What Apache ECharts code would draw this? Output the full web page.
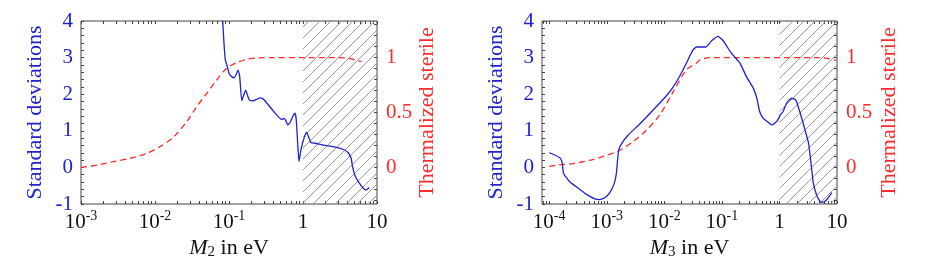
<!DOCTYPE html>
<html><head><meta charset="utf-8">
<script src="https://cdn.jsdelivr.net/npm/echarts@6/dist/echarts.min.js"></script>
<style>html,body{margin:0;padding:0;background:#fff}#c{width:926px;height:272px}</style>
</head><body><div id="c"></div>
<script>
// ---- Left panel (M2) ----
const leftBlueM = [0.0822,0.0855,0.0891,0.0948,0.1009,0.1086,0.1169,0.1245,0.1324,0.1396,0.1486,0.1581,0.1683,0.1791,0.1884,0.2128,0.2366,0.2624,0.2851,0.3062,0.3972,0.5152,0.5585,0.5888,0.6209,0.6668,0.7261,0.7798,0.8110,0.8472,0.8831,0.9204,0.9594,1.033,1.122,1.205,1.282,1.452,1.879,2.851,3.508,4.093,4.467,4.677,5.012,5.585,6.531,7.096,7.870];
const leftBlueSD = [3.99,3.40,2.94,2.76,2.55,2.48,2.45,2.53,2.66,2.48,1.82,1.98,2.11,1.95,1.84,1.82,1.86,1.90,1.88,1.82,1.54,1.31,1.34,1.27,1.16,1.22,1.39,1.48,1.30,0.66,0.16,0.38,0.57,0.80,0.96,0.80,0.68,0.66,0.61,0.55,0.49,0.40,0.25,0.02,-0.21,-0.39,-0.57,-0.62,-0.55];
const leftRedM = [0.001,0.00166,0.00273,0.00459,0.00773,0.01169,0.01766,0.02679,0.03664,0.0500,0.06823,0.09311,0.1271,0.1778,0.2512,0.398,1.0,3.16,3.89,5.01,6.17];
const leftRedTh = [0.0,0.022,0.052,0.083,0.128,0.189,0.274,0.416,0.553,0.674,0.796,0.903,0.954,0.985,0.997,1.0,1.0,1.0,0.995,0.98,0.963];

// ---- Right panel (M3) ----
const rightBlueM = [1.0e-4,1.253e-4,1.581e-4,1.694e-4,1.774e-4,2.291e-4,2.958e-4,4.385e-4,6.223e-4,7.482e-4,9.226e-4,1.138e-3,1.340e-3,1.469e-3,1.538e-3,1.611e-3,1.811e-3,2.339e-3,3.715e-3,6.339e-3,0.01081,0.01429,0.01845,0.02438,0.03148,0.03622,0.05248,0.06622,0.08551,0.1054,0.1459,0.2065,0.2667,0.3524,0.4055,0.4550,0.5236,0.6457,0.7413,0.9141,1.050,1.153,1.358,1.633,1.923,2.259,2.786,3.206,3.516,3.855,4.436,5.093,5.728,6.745,8.110];
const rightBlueSD = [0.40,0.34,0.24,0.10,-0.17,-0.40,-0.53,-0.73,-0.86,-0.88,-0.83,-0.68,-0.45,-0.17,0.19,0.47,0.65,0.88,1.18,1.56,1.95,2.20,2.49,2.86,3.21,3.29,3.29,3.46,3.58,3.46,3.12,2.85,2.48,2.16,1.89,1.52,1.34,1.23,1.16,1.27,1.45,1.52,1.78,1.89,1.84,1.52,1.02,0.66,0.15,-0.40,-0.76,-0.93,-0.95,-0.87,-0.69];
const rightRedM = [1.0e-4,1.343e-4,2.570e-4,5.047e-4,9.886e-4,1.687e-3,2.877e-3,4.909e-3,8.375e-3,0.01429,0.02438,0.03622,0.04169,0.0618,5.0,9.77];
const rightRedTh = [0.01,0.02,0.035,0.065,0.11,0.157,0.235,0.34,0.48,0.69,0.89,0.95,0.98,1.0,1.0,0.975];

// ---- Axes / ticks ----
const xRangeLeft = [0.001, 10];
const xRangeRight = [7.5e-5, 10];
const xTickLabelsLeft = [0.001, 0.01, 0.1, 1, 10];
const xTickLabelsRight = [0.0001, 0.001, 0.01, 0.1, 1, 10];
const sdRange = [-1, 4];
const sdTickLabels = [-1, 0, 1, 2, 3, 4];
const thRange = [-1/3, 4/3];
const thTickLabels = [0, 0.5, 1];
const hatchRange = [1, 10];
const xNames = ['M', 'M'];
const xNameSubs = ['2', '3'];
const yNameLeft = 'Standard deviations';
const yNameRight = 'Thermalized sterile';

const BLUE = '#1e22cf', RED = '#ff2a2a', INK = '#111', FRAME = '#444';
const FONT = 'Liberation Serif';

function logMinorTicks(r) {
  const out = [];
  for (let e = Math.floor(Math.log10(r[0])); e <= Math.ceil(Math.log10(r[1])); e++) {
    for (let k = 1; k <= 9; k++) {
      const v = Number((k * Math.pow(10, e)).toPrecision(6));
      if (v >= r[0] * (1 - 1e-9) && v <= r[1] * (1 + 1e-9)) out.push(v);
    }
  }
  return out;
}
function linTicks(a, b, step) {
  const out = [];
  const n = Math.round((b - a) / step);
  for (let i = 0; i <= n; i++) out.push(Number((a + i * step).toFixed(6)));
  return out;
}
function fmtPow(v) {
  const l = Math.log10(v), e = Math.round(l);
  if (Math.abs(l - e) > 1e-6) return '';
  if (e === 0) return '{b|1}';
  if (e === 1) return '{b|10}';
  return '{b|10}{s|' + e + '}';
}
function hatchImage() {
  const s = 11;
  const c = document.createElement('canvas');
  c.width = s; c.height = s;
  const ctx = c.getContext('2d');
  ctx.strokeStyle = '#9a9a9a';
  ctx.lineWidth = 1;
  ctx.beginPath();
  for (const k of [-s, 0, s]) { ctx.moveTo(k, s); ctx.lineTo(k + s, 0); }
  ctx.stroke();
  return c;
}
const hatchPattern = { image: hatchImage(), repeat: 'repeat' };
function pairs(xs, ys) { return xs.map((x, i) => [x, ys[i]]); }
function wrap(tag) { return v => '{' + tag + '|' + v + '}'; }

const labelRich = {
  b: { fontFamily: FONT, fontSize: 21, lineHeight: 28, color: INK },
  s: { fontFamily: FONT, fontSize: 14, color: INK, padding: [0, 0, 12, 0] }
};
const nameRich = {
  i: { fontFamily: FONT, fontSize: 22, fontStyle: 'italic', color: INK },
  sub: { fontFamily: FONT, fontSize: 15, color: INK, padding: [8, 0, 0, 0] },
  t: { fontFamily: FONT, fontSize: 22, color: INK }
};
const blueRich = { a: { fontFamily: FONT, fontSize: 21, color: BLUE }, n: { fontFamily: FONT, fontSize: 22, color: BLUE, lineHeight: 22 } };
const redRich = { a: { fontFamily: FONT, fontSize: 21, color: RED }, n: { fontFamily: FONT, fontSize: 22, color: RED, lineHeight: 22 } };

const grids = [
  { left: 81, right: 549, top: 21, bottom: 68 },
  { left: 542, right: 89, top: 21, bottom: 68 }
];
const xRanges = [xRangeLeft, xRangeRight];
const xLabelVals = [xTickLabelsLeft, xTickLabelsRight];
const leftGaps = [35, 35], rightGaps = [39, 41];
const tickStyle = { color: '#444', width: 1 };

const xAxis = [], yAxis = [];
for (let g = 0; g < 2; g++) {
  const ticks = logMinorTicks(xRanges[g]);
  xAxis.push({
    type: 'log', logBase: 10, gridIndex: g, position: 'bottom',
    min: xRanges[g][0], max: xRanges[g][1],
    axisLine: { show: false, onZero: false }, splitLine: { show: false },
    axisTick: { show: true, inside: true, length: 3, customValues: ticks, lineStyle: tickStyle },
    axisLabel: { customValues: xLabelVals[g], formatter: fmtPow, rich: labelRich, margin: 4, color: INK },
    name: '{i|' + xNames[g] + '}{sub|' + xNameSubs[g] + '}{t| in eV}',
    nameLocation: 'middle', nameGap: 28,
    nameTextStyle: { rich: nameRich, color: INK }
  });
  xAxis.push({
    type: 'log', logBase: 10, gridIndex: g, position: 'top',
    min: xRanges[g][0], max: xRanges[g][1],
    axisLine: { show: false, onZero: false }, splitLine: { show: false },
    axisTick: { show: true, inside: true, length: 3, customValues: ticks, lineStyle: tickStyle },
    axisLabel: { show: false }
  });
  yAxis.push({
    type: 'value', gridIndex: g, position: 'left',
    min: sdRange[0], max: sdRange[1], interval: 1,
    axisLine: { show: false, onZero: false }, splitLine: { show: false },
    axisTick: { show: true, inside: true, length: 3, customValues: linTicks(sdRange[0], sdRange[1], 0.2), lineStyle: tickStyle },
    axisLabel: { customValues: sdTickLabels, formatter: wrap('a'), rich: blueRich, margin: 8 },
    name: '{n|' + yNameLeft + '}', nameLocation: 'middle', nameGap: leftGaps[g], nameRotate: 90,
    nameTextStyle: { rich: blueRich, color: BLUE }
  });
  yAxis.push({
    type: 'value', gridIndex: g, position: 'right',
    min: thRange[0], max: thRange[1],
    axisLine: { show: false, onZero: false }, splitLine: { show: false },
    axisTick: { show: true, inside: true, length: 3, customValues: linTicks(-0.3, 1.3, 0.1), lineStyle: tickStyle },
    axisLabel: { customValues: thTickLabels, formatter: wrap('a'), rich: redRich, margin: 9 },
    name: '{n|' + yNameRight + '}', nameLocation: 'middle', nameGap: rightGaps[g], nameRotate: 90,
    nameTextStyle: { rich: redRich, color: RED }
  });
}

const blueData = [pairs(leftBlueM, leftBlueSD), pairs(rightBlueM, rightBlueSD)];
const redData = [pairs(leftRedM, leftRedTh), pairs(rightRedM, rightRedTh)];
const series = [];
for (let g = 0; g < 2; g++) {
  series.push({
    type: 'line', xAxisIndex: 2 * g, yAxisIndex: 2 * g, data: blueData[g],
    showSymbol: false, smooth: 0.15, silent: true,
    lineStyle: { color: BLUE, width: 1.3 }, z: 4,
    markArea: { silent: true, itemStyle: { color: hatchPattern }, data: [[{ xAxis: hatchRange[0] }, { xAxis: hatchRange[1] }]] }
  });
  series.push({
    type: 'line', xAxisIndex: 2 * g, yAxisIndex: 2 * g + 1, data: redData[g],
    showSymbol: false, smooth: 0.3, silent: true,
    lineStyle: { color: RED, width: 1.3, type: [6, 4] }, z: 3
  });
}

const chart = echarts.init(document.getElementById('c'), null, { renderer: 'canvas' });
chart.setOption({
  animation: false,
  backgroundColor: '#fff',
  grid: grids.map(g => Object.assign({ show: true, borderColor: FRAME, borderWidth: 1, backgroundColor: 'transparent' }, g)),
  xAxis, yAxis, series
});
</script></body></html>
